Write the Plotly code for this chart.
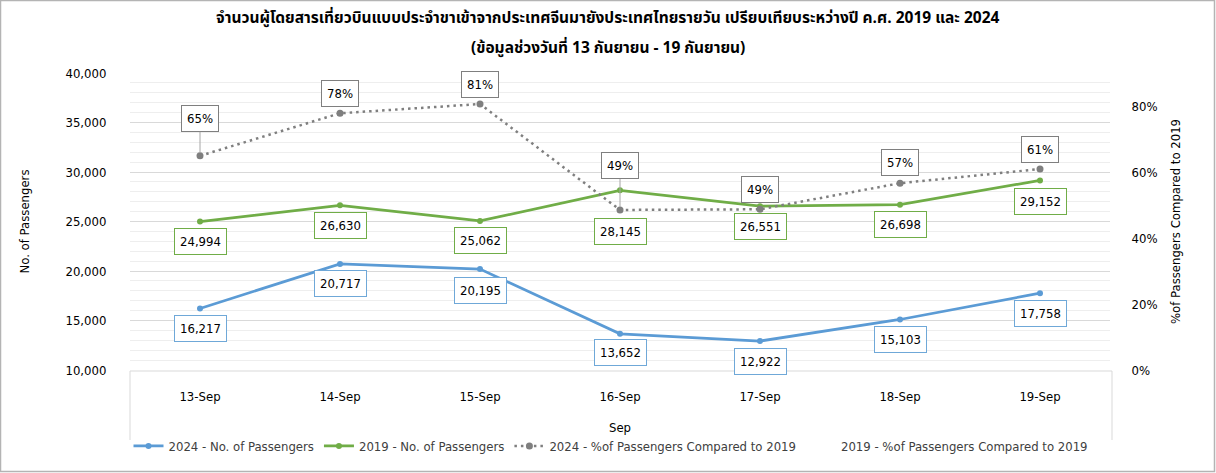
import plotly.graph_objects as go

dates = ["13-Sep", "14-Sep", "15-Sep", "16-Sep", "17-Sep", "18-Sep", "19-Sep"]
pax_2024 = [16217, 20717, 20195, 13652, 12922, 15103, 17758]
pax_2019 = [24994, 26630, 25062, 28145, 26551, 26698, 29152]
pct_2024 = [0.649, 0.778, 0.806, 0.485, 0.487, 0.566, 0.609]
pct_labels = ["65%", "78%", "81%", "49%", "49%", "57%", "61%"]

title_l1 = "จำนวนผู้โดยสารเที่ยวบินแบบประจำขาเข้าจากประเทศจีนมายังประเทศไทยรายวัน เปรียบเทียบระหว่างปี ค.ศ. 2019 และ 2024"
title_l2 = "(ข้อมูลช่วงวันที่ 13 กันยายน - 19 กันยายน)"

BLUE = "#5b9bd5"
GREEN = "#70ad47"
GRAY = "#7f7f7f"
FONT = "Tahoma, 'DejaVu Sans Condensed', 'DejaVu Sans', sans-serif"
TFONT = "Tahoma, 'Noto Sans Thai', 'Leelawadee UI', 'Noto Sans', 'DejaVu Sans', sans-serif"
FS = 13

W, H = 1216, 473
L, R, T, B = 130, 1110, 73, 370  # plot area in pixels


def px(x):
    return (x - L) / (R - L)


def py(y):
    return (B - y) / (B - T)


fig = go.Figure()
fig.add_trace(go.Scatter(x=dates, y=pax_2024, name="2024 - No. of Passengers",
                         mode="lines+markers", line=dict(color=BLUE, width=2.75),
                         marker=dict(size=6, color=BLUE)))
fig.add_trace(go.Scatter(x=dates, y=pax_2019, name="2019 - No. of Passengers",
                         mode="lines+markers", line=dict(color=GREEN, width=2.75),
                         marker=dict(size=6, color=GREEN)))
fig.add_trace(go.Scatter(x=dates, y=pct_2024, name="2024 - %of Passengers Compared to 2019",
                         mode="lines+markers", yaxis="y2",
                         line=dict(color=GRAY, width=2.5, dash="2.5px,4px"),
                         marker=dict(size=7, color=GRAY)))
fig.add_trace(go.Scatter(x=dates, y=[None] * len(dates), name="2019 - %of Passengers Compared to 2019",
                         mode="lines", yaxis="y2", line=dict(color="rgba(0,0,0,0)", width=2)))

ann = []
off_2024 = [20, 20, 21, 19, 20, 20, 20]
off_2019 = [20, 20, 20, 41, 20, 20, 21]
off_pct = [-37, -20, -20, -44, -20, -21, -20]
lab_font = dict(family=FONT, size=FS, color="#000")
for i, d in enumerate(dates):
    ann.append(dict(x=d, y=pax_2024[i], xref="x", yref="y", text=f"{pax_2024[i]:,}",
                    showarrow=False, yshift=-off_2024[i],
                    bordercolor="#6fa8d8", borderwidth=1, borderpad=5, bgcolor="white",
                    font=lab_font))
    ann.append(dict(x=d, y=pax_2019[i], xref="x", yref="y", text=f"{pax_2019[i]:,}",
                    showarrow=False, yshift=-off_2019[i],
                    bordercolor=GREEN, borderwidth=1, borderpad=5, bgcolor="white",
                    font=lab_font))
    leader = off_pct[i] < -30
    ann.append(dict(x=d, y=pct_2024[i], xref="x", yref="y2", text=pct_labels[i],
                    showarrow=True, ax=0, ay=off_pct[i], arrowhead=0, arrowwidth=1,
                    arrowcolor="#a6a6a6" if leader else "rgba(0,0,0,0)", standoff=3,
                    bordercolor=GRAY, borderwidth=1, borderpad=5, bgcolor="white",
                    font=lab_font))

for txt, ypix in ((title_l1, 18), (title_l2, 48)):
    ann.append(dict(x=px(W / 2), y=py(ypix), xref="paper", yref="paper", xanchor="center",
                    yanchor="middle", showarrow=False, text="<b>" + txt + "</b>",
                    font=dict(family=TFONT, size=15.5, color="#000")))

shapes = [
    dict(type="rect", xref="paper", yref="paper", x0=px(0.5), x1=px(W - 1.5), y0=py(H - 1.5), y1=py(0.5),
         line=dict(color="#b4b4b4", width=1.5)),
    dict(type="path", xref="paper", yref="paper",
         path=f"M {px(130)},{py(440)} L {px(130)},{py(371)} L {px(1112)},{py(371)} L {px(1112)},{py(440)}",
         line=dict(color="#d9d9d9", width=1)),
]

axfont = dict(family=FONT, size=FS, color="#000")
fig.update_layout(
    width=W, height=H, autosize=False,
    margin=dict(l=L, r=W - R, t=T, b=H - B),
    paper_bgcolor="white", plot_bgcolor="white",
    font=dict(family=FONT, size=FS, color="#404040"),
    showlegend=True,
    legend=dict(orientation="h", x=px(611), xanchor="center", y=py(446), yanchor="middle",
                font=dict(family=FONT, size=FS, color="#404040"), itemwidth=30,
                bgcolor="rgba(0,0,0,0)"),
    xaxis=dict(type="category", range=[-0.5, 6.5], showgrid=False, showline=False, zeroline=False,
               ticks="outside", ticklen=14, tickcolor="rgba(0,0,0,0)", tickfont=axfont,
               title=dict(text="Sep", standoff=20, font=axfont)),
    yaxis=dict(range=[10000, 40000], dtick=5000, tickformat=",", showgrid=True, gridcolor="#d9d9d9",
               gridwidth=1, zeroline=False, showline=False,
               minor=dict(dtick=1000, showgrid=True, gridcolor="#eeeeee", gridwidth=1),
               ticks="outside", ticklen=20, tickcolor="rgba(0,0,0,0)", tickfont=axfont,
               title=dict(text="No. of Passengers", standoff=32, font=axfont)),
    yaxis2=dict(range=[0, 0.9], dtick=0.2, tickformat=".0%", overlaying="y", side="right",
                showgrid=False, zeroline=False, showline=False,
                ticks="outside", ticklen=18, tickcolor="rgba(0,0,0,0)", tickfont=axfont,
                title=dict(text="%of Passengers Compared to 2019", standoff=14, font=axfont)),
    annotations=ann,
    shapes=shapes,
)

fig.write_html("out.html")
